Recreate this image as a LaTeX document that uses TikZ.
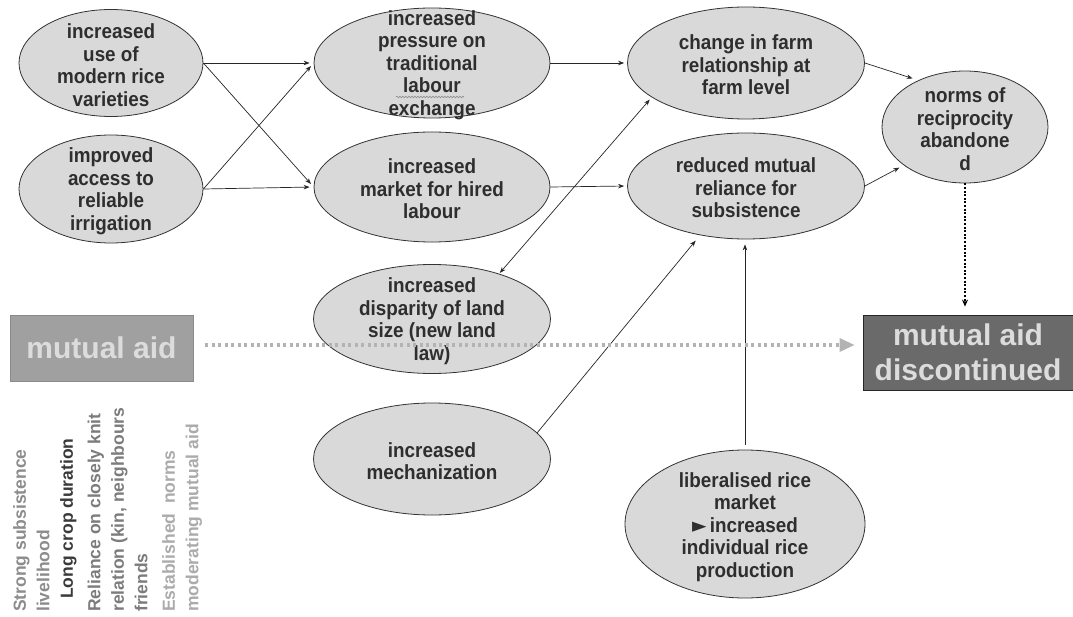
\documentclass[tikz,border=0pt]{standalone}
\usepackage{fontspec}
\setmainfont{Liberation Sans}
\newfontfamily\dejavu{DejaVu Sans}
\usetikzlibrary{shapes.geometric,arrows.meta,decorations.pathmorphing}
\definecolor{ellfill}{HTML}{D9D9D9}
\definecolor{ellline}{HTML}{333333}
\definecolor{etxt}{HTML}{2E2E2E}
\definecolor{boxA}{HTML}{A0A0A0}
\definecolor{boxAline}{HTML}{8A8A8A}
\definecolor{boxB}{HTML}{6A6A6A}
\definecolor{boxtxt}{HTML}{DCDCDC}
\definecolor{dotgray}{HTML}{B3B3B3}
\definecolor{vA}{HTML}{8C8C8C}
\definecolor{vB}{HTML}{3A3A3A}
\definecolor{vC}{HTML}{7C7C7C}
\definecolor{vD}{HTML}{ABABAB}
\begin{document}
\begin{tikzpicture}[x=1pt,y=-1pt,
  ell/.style={ellipse, draw=ellline, fill=ellfill, line width=0.8pt, inner sep=0pt},
  etext/.style={align=center, font=\bfseries\fontsize{20.5}{22.5}\selectfont, text=etxt, inner sep=0pt, xscale=0.92, yshift=-2pt},
  arr/.style={-{Stealth[length=6pt,width=4.5pt]}, line width=0.7pt, draw=black!85},
  darr/.style={{Stealth[length=6pt,width=4.5pt]}-{Stealth[length=6pt,width=4.5pt]}, line width=0.7pt, draw=black!85},
  bigbox/.style={draw, line width=0.8pt, inner sep=0pt, align=center, text=boxtxt, font=\bfseries\fontsize{30}{35}\selectfont},
]
\useasboundingbox (0,0) rectangle (1073,617);
\fill[white] (0,0) rectangle (1073,617);

% ellipses
\node[ell, minimum width=184pt, minimum height=107pt] (e1) at (111,63) {};
\node[etext] (t1) at (e1) {increased\\use of\\modern rice\\varieties};
\node[ell, minimum width=184pt, minimum height=108pt] (e2) at (111,189) {};
\node[etext] (t2) at (e2) {improved\\access to\\reliable\\irrigation};
\node[ell, minimum width=236pt, minimum height=110pt] (e3) at (432,63) {};
\node[etext] (t3) at (e3) {increased\\pressure on\\traditional\\labour\\exchange};
\node[ell, minimum width=236pt, minimum height=110pt] (e4) at (432,187) {};
\node[etext] (t4) at (e4) {increased\\market for hired\\labour};
\node[ell, minimum width=237pt, minimum height=112pt] (e5) at (746,63) {};
\node[etext] (t5) at (e5) {change in farm\\relationship at\\farm level};
\node[ell, minimum width=237pt, minimum height=106pt] (e6) at (746,186) {};
\node[etext] (t6) at (e6) {reduced mutual\\reliance for\\subsistence};
\node[ell, minimum width=166pt, minimum height=112pt] (e7) at (965,127) {};
\node[etext] (t7) at (e7) {norms of\\reciprocity\\abandone\\d};
\node[ell, minimum width=237pt, minimum height=109pt] (e8) at (432,319) {};
\node[etext] (t8) at (e8) {increased\\disparity of land\\size (new land\\law)};
\node[ell, minimum width=237pt, minimum height=112pt] (e9) at (432,459) {};
\node[etext] (t9) at (e9) {increased\\mechanization};
\node[ell, minimum width=240pt, minimum height=148pt] (e10) at (745,524) {};
\node[etext] (t10) at (745,525) {liberalised rice\\market\\{\dejavu\char"25BA}\,increased\\individual rice\\production};

% spell-check wave under "labour"
\draw[decorate, decoration={snake, amplitude=0.8pt, segment length=3pt}, draw=black!45, line width=0.6pt] (396,97) -- (464,97);

% boxes
\node[bigbox, draw=boxAline, fill=boxA, minimum width=183pt, minimum height=66pt] (ma) at (101.5,348) {mutual aid};
\node[bigbox, draw=black!85, fill=boxB, minimum width=210pt, minimum height=75pt] (mad) at (968,352.5) {mutual aid\\discontinued};

% vertical text
\node[rotate=90, anchor=north west, align=left, inner sep=0pt,
      font=\bfseries\fontsize{17.5}{23.5}\selectfont] (vt) at (13,612)
  {\textcolor{vA}{Strong subsistence}\\
   \textcolor{vA}{livelihood}\\
   \hspace*{13pt}\textcolor{vB}{Long crop duration}\\[4pt]
   \textcolor{vC}{Reliance on closely knit}\\
   \textcolor{vC}{relation (kin, neighbours}\\
   \textcolor{vC}{friends}\\[4pt]
   \textcolor{vD}{Established\ \ norms}\\
   \textcolor{vD}{moderating mutual aid}};

% connectors
\draw[arr, shorten >=4pt] (e1.east) -- (e3.west);
\draw[arr, shorten >=4pt] (e1.east) -- (e4.west);
\draw[arr, shorten >=4pt] (e2.east) -- (e3.west);
\draw[arr, shorten >=4pt] (e2.east) -- (e4.west);
\draw[arr, shorten >=3pt] (e3.east) -- (e5.west);
\draw[arr, shorten >=3pt] (e4.east) -- (e6.west);
\draw[arr, shorten >=6pt] (e5.east) -- (e7.135);
\draw[arr, shorten >=5pt] (e6.east) -- (e7.212);
\draw[darr, shorten >=3pt, shorten <=1pt] (e8.34) -- (e5.200);
\draw[arr, shorten >=7pt] (e9.14) -- (e6.227);
\draw[arr, shorten >=5pt, shorten <=5pt] (e10.north) -- (e10.north |- e6.south);

% dotted arrows
\draw[draw=dotgray, line width=3.2pt, dash pattern=on 3pt off 3.5pt,
      -{Triangle[length=15pt,width=13pt,fill=dotgray]}, shorten <=12pt, shorten >=8pt]
  (ma.east |- 0,345) -- (mad.west |- 0,345);
\draw[draw=black, line width=2.2pt, dash pattern=on 2pt off 1.6pt,
      -{Stealth[length=7pt,width=6pt]}, shorten >=8pt]
  (e7.south) -- (e7.south |- mad.north);
\end{tikzpicture}
\end{document}
